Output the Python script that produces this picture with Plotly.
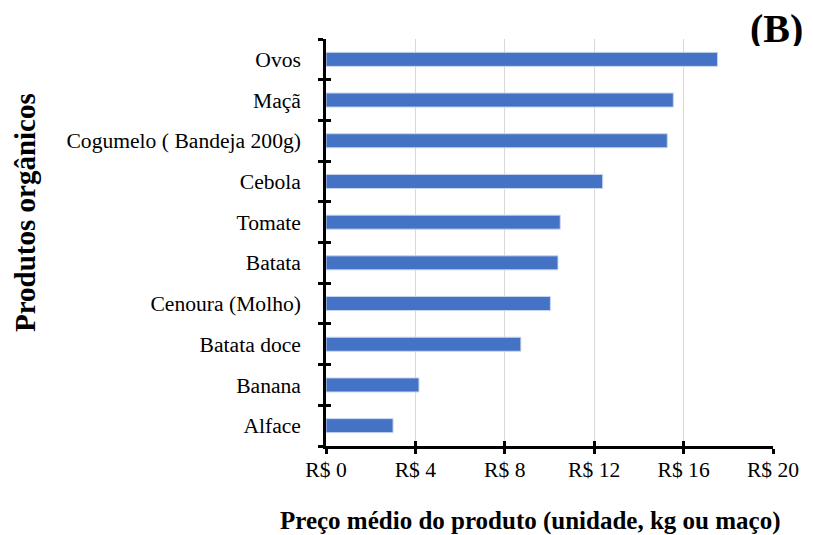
import plotly.graph_objects as go

produtos = ["Alface", "Banana", "Batata doce", "Cenoura (Molho)", "Batata", "Tomate",
            "Cebola", "Cogumelo ( Bandeja 200g)", "Maçã", "Ovos"]
precos = [3.0, 4.16, 8.72, 10.04, 10.38, 10.48, 12.38, 15.27, 15.54, 17.52]
x_ticks = [0, 4, 8, 12, 16, 20]
x_tick_labels = ["R$ 0", "R$ 4", "R$ 8", "R$ 12", "R$ 16", "R$ 20"]

FONT = "Liberation Serif"

fig = go.Figure()
fig.add_trace(go.Bar(
    y=produtos, x=precos, orientation="h",
    marker=dict(color="#4472C4", line=dict(color="#c9d6ee", width=1)),
))
# overlay trace for cross ticks
fig.add_trace(go.Bar(y=produtos, x=[None]*len(produtos), orientation="h",
                     xaxis="x2", yaxis="y2", showlegend=False, hoverinfo="skip"))

fig.update_layout(
    width=805, height=527,
    margin=dict(l=318, r=40, t=31, b=89),
    paper_bgcolor="white", plot_bgcolor="white",
    showlegend=False, bargap=0.655,
    font=dict(family=FONT, size=21.6, color="black"),
    xaxis=dict(range=[0, 20], tickvals=x_ticks, ticktext=x_tick_labels,
               showgrid=True, gridcolor="#d9d9d9", gridwidth=1,
               showline=True, linecolor="black", linewidth=2.5,
               ticks="outside", ticklen=5, tickwidth=2.5, tickcolor="black",
               ticklabelstandoff=-3,
               zeroline=False, automargin=False, tickfont=dict(size=21.6, family=FONT)),
    yaxis=dict(type="category", categoryorder="array", categoryarray=produtos,
               showline=True, linecolor="black", linewidth=2.5,
               ticks="outside", ticklen=5, tickwidth=2.5, tickcolor="black",
               tickson="boundaries", showgrid=False, ticklabelstandoff=18, automargin=False,
               tickfont=dict(size=21.6, family=FONT)),
    xaxis2=dict(overlaying="x", range=[0, 20], tickvals=x_ticks, showticklabels=False,
                ticks="inside", ticklen=5, tickwidth=2.5, tickcolor="black",
                showgrid=False, zeroline=False, anchor="y2", side="bottom"),
    yaxis2=dict(overlaying="y", type="category", categoryorder="array",
                categoryarray=produtos, showticklabels=False,
                ticks="inside", ticklen=5, tickwidth=2.5, tickcolor="black",
                tickson="boundaries", showgrid=False, anchor="x2", side="left"),
    annotations=[
        dict(text="<b>Produtos orgânicos</b>", textangle=-90, xref="paper", yref="paper",
             x=-0.672, y=0.574, xanchor="center", yanchor="middle", showarrow=False,
             font=dict(size=29, family=FONT)),
        dict(text="<b>Preço médio do produto (unidade, kg ou maço)</b>", xref="paper", yref="paper",
             x=0.4586, y=-0.184, xanchor="center", yanchor="middle", showarrow=False,
             font=dict(size=25, family=FONT)),
        dict(text="<b>(B)</b>", xref="paper", yref="paper",
             x=1.071, y=1.028, xanchor="right", yanchor="middle", showarrow=False,
             height=36, valign="middle",
             font=dict(size=40, family=FONT)),
    ],
)

fig.write_html("out.html")
